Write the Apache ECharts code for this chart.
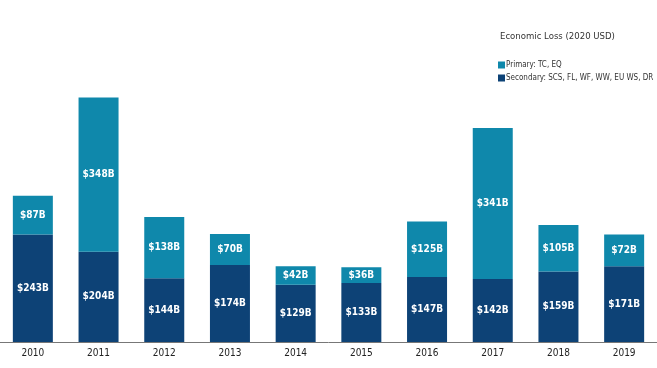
<!DOCTYPE html>
<html><head><meta charset="utf-8">
<script src="https://cdn.jsdelivr.net/npm/echarts@6/dist/echarts.min.js"></script>
<style>html,body{margin:0;padding:0;background:#fff}#c{width:657px;height:368px}</style>
</head><body><div id="c"></div>
<script>
const years = ['2010','2011','2012','2013','2014','2015','2016','2017','2018','2019'];
const secondary = [243,204,144,174,129,133,147,142,159,171];
const primary = [87,348,138,70,42,36,125,341,105,72];
const seriesNames = ['Primary: TC, EQ','Secondary: SCS, FL, WF, WW, EU WS, DR'];
const titleText = 'Economic Loss (2020 USD)';
const font = '"DejaVu Sans Condensed", "Liberation Sans", sans-serif';
const chart = echarts.init(document.getElementById('c'));
const lbl = {show:true,position:'inside',color:'#fff',fontFamily:font,fontSize:10,fontWeight:'bold',formatter:p=>'$'+p.value+'B'};
chart.setOption({
  animation:false,
  title:{text:titleText,left:495,top:27,textStyle:{fontFamily:font,fontSize:9.5,fontWeight:'normal',color:'#333'}},
  legend:{orient:'vertical',left:493,top:56,itemWidth:7,itemHeight:7,itemGap:5,icon:'rect',
    data:seriesNames,textStyle:{fontFamily:font,fontSize:8,color:'#333',padding:[0,0,0,-4]}},
  grid:{left:0,right:0,top:32,bottom:26},
  xAxis:{type:'category',data:years,axisTick:{show:false},
    axisLine:{lineStyle:{color:'#777',width:1}},
    axisLabel:{color:'#222',fontFamily:font,fontSize:10,margin:6}},
  yAxis:{type:'value',min:0,max:700,show:false,splitLine:{show:false}},
  series:[
    {name:seriesNames[1],type:'bar',stack:'a',data:secondary,barWidth:40,itemStyle:{color:'#0d4276'},label:lbl},
    {name:seriesNames[0],type:'bar',stack:'a',data:primary,barWidth:40,itemStyle:{color:'#0f88ab'},label:lbl}
  ]
});
</script></body></html>
